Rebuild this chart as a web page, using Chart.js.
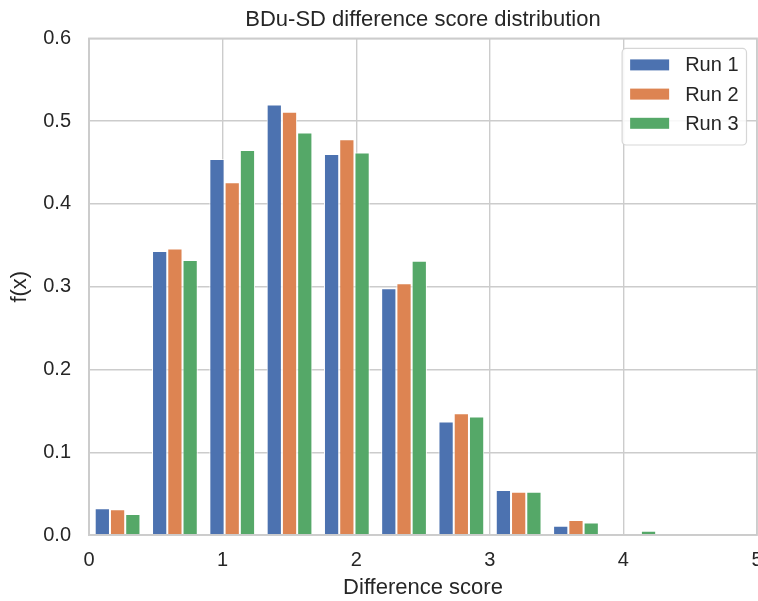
<!DOCTYPE html>
<html lang="en">
<head>
    <meta charset="UTF-8">
    <title>BDu-SD difference score distribution</title>
    <script src="https://cdn.jsdelivr.net/npm/chart.js@4.4.1/dist/chart.umd.min.js"></script>
    <style>
        body {
            margin: 0;
            background: #ffffff;
        }
        .chart-container {
            width: 758px;
            height: 601px;
            position: relative;
        }
    </style>
</head>
<body>
    <div class="chart-container">
        <canvas id="histChart"></canvas>
    </div>

    <script>
        // bin centres of the histogram (10 bins, width ~0.429)
        const binCenters = [0.214, 0.643, 1.072, 1.501, 1.930, 2.358, 2.787, 3.216, 3.645, 4.074];

        // f(x) per bin
        const run1 = [0.032, 0.343, 0.454, 0.520, 0.460, 0.298, 0.137, 0.054, 0.011, 0.0];
        const run2 = [0.031, 0.346, 0.426, 0.511, 0.478, 0.304, 0.147, 0.052, 0.018, 0.0];
        const run3 = [0.025, 0.332, 0.465, 0.486, 0.462, 0.331, 0.143, 0.052, 0.015, 0.005];

        const seriesNames = ['Run 1', 'Run 2', 'Run 3'];
        const seriesColors = ['#4c72b0', '#dd8452', '#55a868'];

        const xTicks = [0, 1, 2, 3, 4, 5];
        const yTicks = [0.0, 0.1, 0.2, 0.3, 0.4, 0.5, 0.6];

        const FONT = '"Liberation Sans", Arial, sans-serif';
        const TEXT = '#262626';
        const GRID = '#cccccc';

        function toPoints(values) {
            return values.map((v, i) => ({ x: binCenters[i], y: v }));
        }

        // legend box in the upper right corner, matplotlib style
        const legendBox = {
            id: 'legendBox',
            afterDraw(chart) {
                const ctx = chart.ctx;
                const area = chart.chartArea;
                ctx.save();
                ctx.font = '20px ' + FONT;
                let textW = 0;
                chart.data.datasets.forEach(ds => {
                    textW = Math.max(textW, ctx.measureText(ds.label).width);
                });
                const pad = 8, handleW = 39, handleH = 11, gap = 16, rowH = 29.2;
                const boxW = pad + handleW + gap + textW + pad;
                const boxH = pad + rowH * chart.data.datasets.length + 1;
                const right = area.right - 10.5;
                const left = right - boxW;
                const top = area.top + 10;

                ctx.beginPath();
                ctx.roundRect(left, top, boxW, boxH, 4);
                ctx.fillStyle = 'rgba(255,255,255,0.85)';
                ctx.fill();
                ctx.strokeStyle = 'rgba(204,204,204,0.8)';
                ctx.lineWidth = 1.2;
                ctx.stroke();

                chart.data.datasets.forEach((ds, i) => {
                    const cy = top + 16.5 + i * rowH;
                    ctx.fillStyle = ds.backgroundColor;
                    ctx.fillRect(left + pad, cy - handleH / 2, handleW, handleH);
                    ctx.fillStyle = TEXT;
                    ctx.textAlign = 'left';
                    ctx.textBaseline = 'middle';
                    ctx.fillText(ds.label, left + pad + handleW + gap, cy + 1);
                });
                ctx.restore();
            }
        };

        // axes frame (all four spines)
        const frame = {
            id: 'frame',
            afterDatasetsDraw(chart) {
                const { left, top, right, bottom } = chart.chartArea;
                const ctx = chart.ctx;
                ctx.save();
                ctx.strokeStyle = GRID;
                ctx.lineWidth = 1.75;
                ctx.strokeRect(left, top, right - left, bottom - top);
                ctx.restore();
            }
        };

        const ctx = document.getElementById('histChart').getContext('2d');
        new Chart(ctx, {
            type: 'bar',
            data: {
                datasets: [run1, run2, run3].map((vals, i) => ({
                    label: seriesNames[i],
                    data: toPoints(vals),
                    backgroundColor: seriesColors[i],
                    borderColor: '#ffffff',
                    borderWidth: { top: 0.8, left: 1, right: 1, bottom: 0 },
                    borderSkipped: false
                }))
            },
            options: {
                responsive: true,
                maintainAspectRatio: false,
                animation: false,
                categoryPercentage: 0.8,
                barPercentage: 1.0,
                layout: { padding: { left: 0, right: 1, top: 0, bottom: 0 } },
                plugins: {
                    legend: { display: false },
                    tooltip: { enabled: false },
                    title: {
                        display: true,
                        text: 'BDu-SD difference score distribution',
                        fullSize: false,
                        color: TEXT,
                        font: { family: FONT, size: 22, weight: 'normal' },
                        padding: { top: 7, bottom: 5 }
                    }
                },
                scales: {
                    x: {
                        type: 'linear',
                        min: 0,
                        max: 5,
                        offset: false,
                        afterBuildTicks: scale => { scale.ticks = xTicks.map(v => ({ value: v })); },
                        afterFit: scale => {
                            scale.height = 66;
                            scale.paddingLeft = 0;
                            scale.paddingRight = 0;
                        },
                        grid: { offset: false, color: GRID, lineWidth: 1.4, drawTicks: false },
                        border: { color: GRID, width: 1.75 },
                        ticks: {
                            color: TEXT,
                            font: { family: FONT, size: 20 },
                            padding: 13,
                            maxRotation: 0,
                            callback: v => String(v)
                        },
                        title: {
                            display: true,
                            text: 'Difference score',
                            color: TEXT,
                            font: { family: FONT, size: 22 },
                            padding: { top: 0, bottom: 0 }
                        }
                    },
                    y: {
                        min: 0,
                        max: 0.6,
                        afterBuildTicks: scale => { scale.ticks = yTicks.map(v => ({ value: v })); },
                        afterFit: scale => {
                            scale.width = 89;
                            scale.paddingTop = 0;
                            scale.paddingBottom = 0;
                        },
                        grid: { color: GRID, lineWidth: 1.4, drawTicks: false },
                        border: { color: GRID, width: 1.75 },
                        ticks: {
                            color: TEXT,
                            font: { family: FONT, size: 20 },
                            padding: 18,
                            callback: v => Number(v).toFixed(1)
                        },
                        title: {
                            display: true,
                            text: 'f(x)',
                            color: TEXT,
                            font: { family: FONT, size: 22 },
                            padding: { top: 7, bottom: 0 }
                        }
                    }
                }
            },
            plugins: [frame, legendBox]
        });
    </script>
</body>
</html>
